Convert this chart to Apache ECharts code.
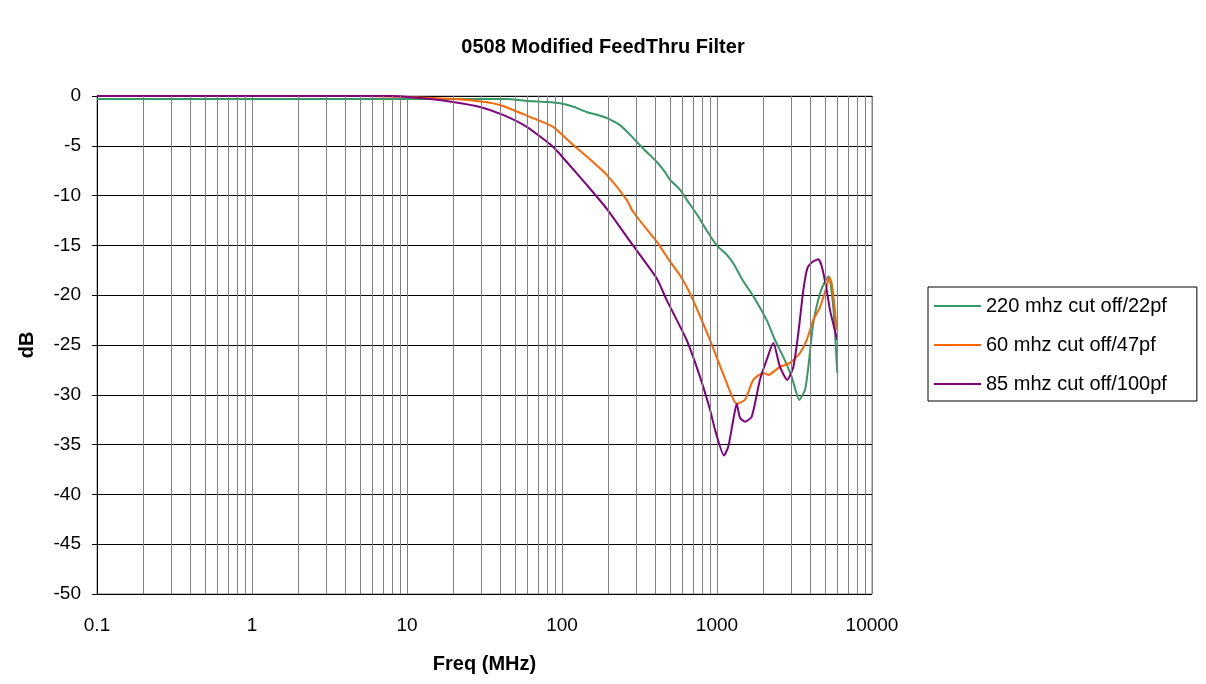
<!DOCTYPE html>
<html>
<head>
<meta charset="utf-8">
<script src="https://cdn.jsdelivr.net/npm/echarts@6/dist/echarts.min.js"></script>
<style>html,body{margin:0;padding:0;background:#fff}#c{width:1206px;height:684px}</style>
</head>
<body>
<div id="c"></div>
<script>
const titleText = "0508 Modified FeedThru Filter";
const seriesNames = ["220 mhz cut off/22pf", "60 mhz cut off/47pf", "85 mhz cut off/100pf"];
const seriesColors = ["#339966", "#FF6600", "#800080"];

const greenFreq = [0.1, 1, 10, 20, 30, 44, 60, 80, 97, 120, 144, 170, 194, 240, 287, 340, 408, 460, 497, 577, 637, 750, 859, 996, 1150, 1274, 1478, 1715, 2092, 2368, 2677, 3034, 3397, 3698, 3884, 4180, 4621, 4978, 5260, 5626, 5970];
const greenDb   = [-0.3, -0.3, -0.3, -0.3, -0.3, -0.3, -0.5, -0.6, -0.73, -1.1, -1.6, -1.9, -2.2, -3.0, -4.2, -5.4, -6.6, -7.6, -8.4, -9.4, -10.4, -12.0, -13.5, -15, -15.9, -16.8, -18.6, -20.1, -22.5, -24.5, -26.2, -28.2, -30.5, -29.5, -27.2, -22.8, -19.8, -18.6, -18.1, -21.2, -27.8];

const orangeFreq = [0.1, 1, 5, 10, 14.7, 25, 39.8, 62, 87.5, 117.8, 150, 194, 261, 287, 370, 408, 497, 577, 669, 902, 1155, 1340, 1516, 1715, 1990, 2142, 2549, 2958, 3430, 3793, 4180, 4621, 5105, 5308, 5496, 5770, 5919];
const orangeDb   = [0, 0, 0, -0.1, -0.2, -0.4, -0.9, -2.1, -3.1, -4.9, -6.3, -7.9, -10.4, -11.6, -13.8, -14.6, -16.6, -18, -19.8, -24.5, -28.8, -30.9, -30.5, -28.5, -27.8, -28, -27.2, -26.8, -25.8, -24.5, -22.5, -21.2, -19.1, -18.2, -18.8, -21.5, -23.5];

const purpleFreq = [0.1, 1, 8, 14.1, 19.8, 29.6, 41.6, 59.2, 87.5, 107, 144, 194, 287, 408, 474, 637, 777, 902, 971, 1110, 1183, 1274, 1340, 1407, 1516, 1675, 1893, 2092, 2308, 2549, 2842, 3107, 3347, 3606, 3827, 4180, 4505, 4740, 5105, 5358, 5970];
const purpleDb   = [0, 0, 0, -0.3, -0.6, -1.1, -1.9, -3.1, -5.1, -6.6, -8.9, -11.3, -15, -18.3, -20.5, -24.5, -28.2, -31.5, -33.5, -36.1, -35.2, -32.5, -30.9, -32.3, -32.7, -32.2, -28.5, -26.5, -24.8, -27.2, -28.5, -27.2, -23.8, -19.5, -17.3, -16.6, -16.4, -17.1, -19.5, -21.5, -24.5];

const xMin = 0.1, xMax = 10000;
const yMin = -50, yMax = 0, yStep = 5;
const minorMults = [2, 3, 4, 5, 6, 7, 8, 9];
const decades = [0.1, 1, 10, 100, 1000];

const pair = (f, d) => f.map((v, i) => [v, d[i]]);
const minorLines = [];
decades.forEach(dec => minorMults.forEach(m => minorLines.push({ xAxis: Number((dec * m).toPrecision(6)) })));

const font = "Arial, 'Liberation Sans', sans-serif";
const chart = echarts.init(document.getElementById('c'));
chart.setOption({
  animation: false,
  backgroundColor: '#fff',
  title: {
    text: titleText, left: 'center', top: 32,
    textStyle: { fontFamily: font, fontWeight: 'bold', fontSize: 20, color: '#000' }
  },
  grid: { left: 97, right: 334, top: 96, bottom: 90, show: true, borderColor: '#808080', borderWidth: 1 },
  legend: {
    orient: 'vertical', left: 928, top: 287,
    padding: [8, 30, 6, 6],
    itemGap: 17, itemWidth: 47, itemHeight: 2,
    borderColor: '#000', borderWidth: 1,
    icon: 'rect',
    textStyle: { fontFamily: font, fontSize: 20, lineHeight: 22, color: '#000' },
    data: seriesNames
  },
  xAxis: {
    type: 'log', logBase: 10, min: xMin, max: xMax,
    name: 'Freq (MHz)', nameLocation: 'middle', nameGap: 60,
    nameTextStyle: { fontFamily: font, fontWeight: 'bold', fontSize: 20, color: '#000' },
    axisLine: { lineStyle: { color: '#000', width: 1 } },
    axisTick: { show: false },
    axisLabel: { fontFamily: font, fontSize: 19, color: '#000', margin: 22,
      formatter: v => String(Number(v.toPrecision(6))) },
    splitLine: { show: true, lineStyle: { color: '#808080', width: 1 } }
  },
  yAxis: {
    type: 'value', min: yMin, max: yMax, interval: yStep,
    name: 'dB', nameLocation: 'middle', nameGap: 60, nameRotate: 90,
    nameTextStyle: { fontFamily: font, fontWeight: 'bold', fontSize: 20, color: '#000' },
    axisLine: { show: true, lineStyle: { color: '#000', width: 1 } },
    axisTick: { show: true, length: 5, lineStyle: { color: '#000' } },
    axisLabel: { fontFamily: font, fontSize: 19, color: '#000', margin: 16 },
    splitLine: { show: true, lineStyle: { color: '#000', width: 1 } }
  },
  series: [
    {
      name: 'minor', type: 'line', data: [], silent: true,
      markLine: { silent: true, symbol: 'none', label: { show: false },
        lineStyle: { color: '#808080', width: 1, type: 'solid' }, data: minorLines }
    },
    { name: seriesNames[0], type: 'line', data: pair(greenFreq, greenDb), showSymbol: false, smooth: 0.2,
      lineStyle: { color: seriesColors[0], width: 2 }, itemStyle: { color: seriesColors[0] } },
    { name: seriesNames[1], type: 'line', data: pair(orangeFreq, orangeDb), showSymbol: false, smooth: 0.2,
      lineStyle: { color: seriesColors[1], width: 2 }, itemStyle: { color: seriesColors[1] } },
    { name: seriesNames[2], type: 'line', data: pair(purpleFreq, purpleDb), showSymbol: false, smooth: 0.2,
      lineStyle: { color: seriesColors[2], width: 2 }, itemStyle: { color: seriesColors[2] } }
  ]
});
</script>
</body>
</html>
